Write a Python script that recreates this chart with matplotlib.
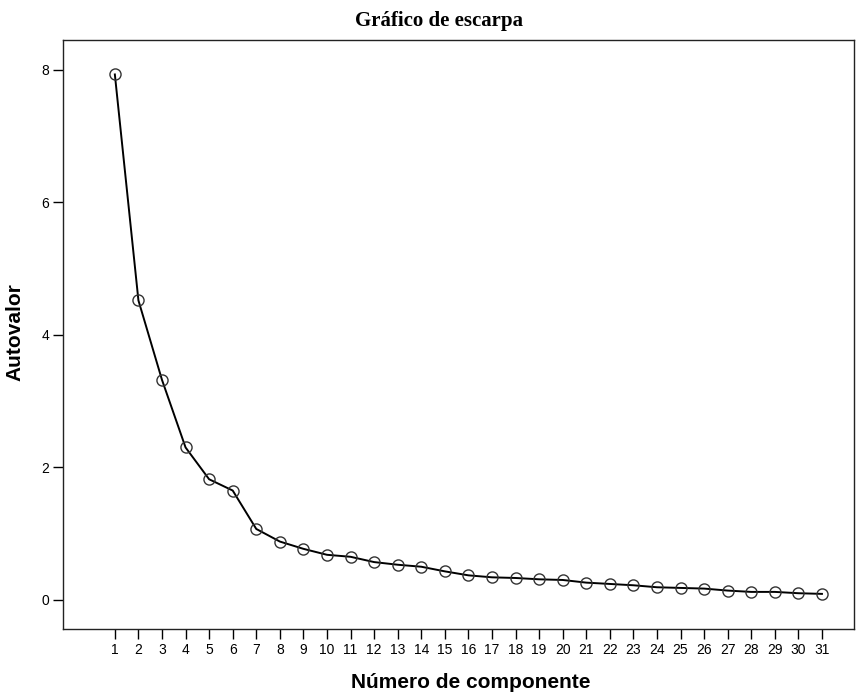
import matplotlib
matplotlib.use("Agg")
import matplotlib.pyplot as plt

# Gráfico de sedimentación (autovalores por componente)
componentes = list(range(1, 32))
autovalores = [7.93, 4.52, 3.32, 2.30, 1.82, 1.65, 1.07, 0.88, 0.77, 0.68,
               0.65, 0.57, 0.53, 0.50, 0.43, 0.37, 0.34, 0.33, 0.31, 0.30,
               0.26, 0.24, 0.22, 0.19, 0.18, 0.17, 0.14, 0.12, 0.12, 0.10,
               0.09]
y_ticks = [0, 2, 4, 6, 8]

plt.rcParams['font.family'] = ['Liberation Sans', 'DejaVu Sans']

W, H = 868, 693
fig = plt.figure(figsize=(W / 100, H / 100), dpi=100)
ax = fig.add_axes([63/W, 1-629/H, (854-63)/W, (629-40)/H])

ax.plot(componentes, autovalores, color='black', linewidth=1.4,
        marker='o', markersize=8, markerfacecolor='none',
        markeredgecolor='#333333', markeredgewidth=1.0)

ax.set_xlim(-1.2, 32.36)
ax.set_ylim(-0.44, 8.45)
ax.set_xticks(componentes)
ax.set_yticks(y_ticks)
ax.tick_params(direction='out', length=7, width=1.0, labelsize=10,
               colors='black', pad=3)

for s in ax.spines.values():
    s.set_linewidth(1.0)
    s.set_color('#222222')

# textos colocados en coordenadas de figura
fig.text(439/W, 1-21/H, 'Gráfico de escarpa', ha='center', va='center',
         family=['Liberation Serif', 'DejaVu Serif'], fontsize=15, fontweight='bold')
fig.text(471/W, 1-688/H, 'Número de componente', ha='center', va='baseline',
         fontsize=15, fontweight='bold')
fig.text(15/W, 1-332/H, 'Autovalor', ha='center', va='center', rotation=90,
         fontsize=15, fontweight='bold')

fig.savefig('out.png', dpi=100)
